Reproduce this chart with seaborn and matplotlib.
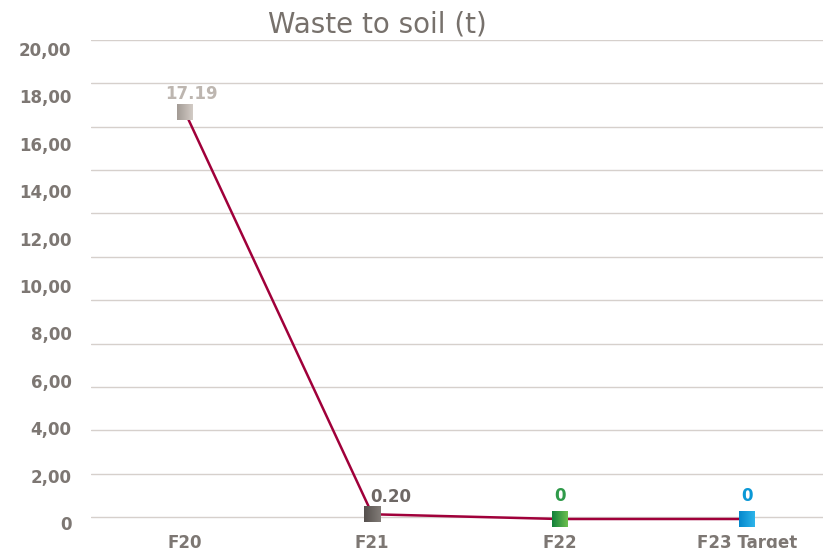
import numpy as np
import pandas as pd
import seaborn as sns
import matplotlib.pyplot as plt
import matplotlib.transforms as mtransforms
from matplotlib.colors import LinearSegmentedColormap
from matplotlib.ticker import FuncFormatter

categories = ["F20", "F21", "F22", "F23 Target"]
values = [17.19, 0.20, 0, 0]
value_labels = ["17.19", "0.20", "0", "0"]
label_colors = ["#bdb6b0", "#6e6865", "#2f9a4a", "#0b98d6"]
marker_left = ["#a39b95", "#55504d", "#12803a", "#0588cc"]
marker_right = ["#d2cbc5", "#827c78", "#6cbf4e", "#2db4ea"]
label_dx = [5, 13, 0, 0]
label_dy = [6, 6, 10, 10]
yticks = [0, 2, 4, 6, 8, 10, 12, 14, 16, 18, 20]

df = pd.DataFrame({"period": categories, "tonnes": values})
df["pos"] = np.arange(len(df))

sns.set_style("white")
plt.rcParams["font.family"] = ["DejaVu Sans"]
grey = "#7d7773"

fig = plt.figure(figsize=(8.23, 5.48), dpi=100)
ax = fig.add_axes([91 / 823, 27 / 548, 750 / 823, 481 / 548])

# value scale: 0 sits just under the bottom gridline, 20 a little below the top one
ylim = (-0.084, 20.21)
grid_lines = np.linspace(0.084, 20.21, 12)

sns.lineplot(data=df, x="pos", y="tonnes", color="#a0003a", linewidth=1.8, ax=ax, zorder=2)
ax.set_xlim(-0.5, len(categories) - 0.5)
ax.set_ylim(*ylim)

# gradient square markers, 16 px wide
inv = ax.transData.inverted()
for i, row in df.iterrows():
    px, py = ax.transData.transform((row["pos"], row["tonnes"]))
    x0, y0 = inv.transform((px - 8, py - 8))
    x1, y1 = inv.transform((px + 8, py + 8))
    cmap = LinearSegmentedColormap.from_list("m", [marker_left[i], marker_right[i]])
    ax.imshow(np.linspace(0, 1, 32).reshape(1, -1), cmap=cmap, extent=[x0, x1, y0, y1],
              aspect="auto", zorder=3, clip_on=False, interpolation="bilinear")
    ax.annotate(value_labels[i], (row["pos"], row["tonnes"]), xytext=(label_dx[i], label_dy[i]),
                textcoords="offset points", ha="center", va="bottom",
                fontsize=12, fontweight="bold", color=label_colors[i])
ax.set_xlim(-0.5, len(categories) - 0.5)
ax.set_ylim(*ylim)

ax.set_yticks(yticks)
ax.yaxis.set_major_formatter(FuncFormatter(lambda v, p: "0" if v == 0 else f"{v:.2f}".replace(".", ",")))
# the gridlines in the original do not follow the tick labels: 12 evenly spaced lines
ax.set_yticks(grid_lines, minor=True)
ax.set_xticks(df["pos"])
ax.set_xticklabels(categories)
ax.tick_params(axis="both", which="both", length=0, labelsize=12, colors=grey)
ax.tick_params(axis="y", pad=14)
ax.tick_params(axis="x", pad=9)
shift = mtransforms.ScaledTranslation(0, -4 / 100, fig.dpi_scale_trans)
for lab in ax.get_yticklabels():
    lab.set_transform(lab.get_transform() + shift)
for lab in ax.get_xticklabels() + ax.get_yticklabels():
    lab.set_fontweight("bold")
ax.grid(axis="y", which="minor", color="#d6d0cc", linewidth=1)
ax.grid(axis="y", which="major", visible=False)
ax.set_axisbelow(True)
sns.despine(ax=ax, left=True, bottom=True)
ax.set_xlabel("")
ax.set_ylabel("")

fig.text(377 / 823, 1 - 24 / 548, "Waste to soil (t)", ha="center", va="center",
         fontsize=20, color="#77716c")

fig.savefig("out.png", dpi=100)
